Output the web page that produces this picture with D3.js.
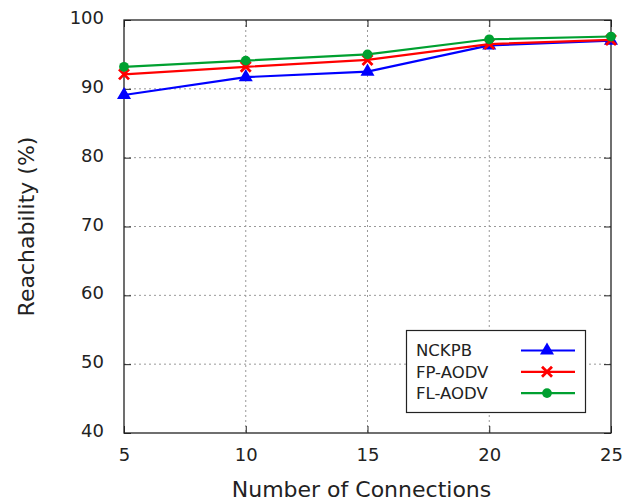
<!DOCTYPE html>
<html><head><meta charset="utf-8">
<script src="https://cdn.jsdelivr.net/npm/d3@7"></script>
<style>body{margin:0;background:#fff}svg{display:block}text{font-family:"DejaVu Sans",sans-serif;fill:#222}</style>
</head><body><svg id="c" width="623" height="501"></svg>
<script>
const connections = [5, 10, 15, 20, 25];
const nckpb = [89.1, 91.7, 92.5, 96.3, 97.0];
const fpAodv = [92.1, 93.2, 94.2, 96.5, 97.1];
const flAodv = [93.2, 94.1, 95.0, 97.2, 97.6];
const xTicks = [5, 10, 15, 20, 25];
const yTicks = [40, 50, 60, 70, 80, 90, 100];
const seriesNames = ["NCKPB", "FP-AODV", "FL-AODV"];
const seriesColors = ["#0000ff", "#ff0000", "#00a030"];
const seriesMarkers = ["triangle", "cross", "circle"];
const seriesValues = [nckpb, fpAodv, flAodv];

const svg = d3.select("#c");
const L = 124, R = 611, T = 20, B = 433;
const x = d3.scaleLinear().domain([5, 25]).range([L, R]);
const y = d3.scaleLinear().domain([40, 100]).range([B, T]);

// grid
const grid = svg.append("g");
xTicks.slice(1, -1).forEach(t => grid.append("line").attr("x1", x(t)).attr("x2", x(t)).attr("y1", T).attr("y2", B)
  .attr("stroke", "#999").attr("stroke-width", 1).attr("stroke-dasharray", "2,3"));
yTicks.slice(1, -1).forEach(t => grid.append("line").attr("x1", L).attr("x2", R).attr("y1", y(t)).attr("y2", y(t))
  .attr("stroke", "#999").attr("stroke-width", 1).attr("stroke-dasharray", "2,3"));

// axes with inward ticks
const ax = svg.append("g");
ax.append("g").attr("transform", `translate(0,${B})`).call(d3.axisBottom(x).tickValues(xTicks).tickSize(-7).tickPadding(15))
  .call(g => { g.select(".domain").remove(); g.selectAll("text").attr("font-size", 18).attr("font-family", "DejaVu Sans").attr("fill", "#222"); });
ax.append("g").attr("transform", `translate(${L},0)`).call(d3.axisLeft(y).tickValues(yTicks).tickSize(-7).tickPadding(20))
  .call(g => { g.select(".domain").remove(); g.selectAll("text").attr("font-size", 18).attr("font-family", "DejaVu Sans").attr("fill", "#222").attr("dy", "0.2em"); });
ax.append("g").attr("transform", `translate(0,${T})`).call(d3.axisTop(x).tickValues(xTicks).tickSize(-7).tickFormat(""))
  .call(g => g.select(".domain").remove());
ax.append("g").attr("transform", `translate(${R},0)`).call(d3.axisRight(y).tickValues(yTicks).tickSize(-7).tickFormat(""))
  .call(g => g.select(".domain").remove());
ax.selectAll(".tick line").attr("stroke", "#222");
svg.append("rect").attr("x", L).attr("y", T).attr("width", R - L).attr("height", B - T)
  .attr("fill", "none").attr("stroke", "#222").attr("stroke-width", 1.3);

function marker(g, type, cx, cy, color) {
  if (type === "triangle") {
    g.append("path").attr("d", d3.symbol(d3.symbolTriangle, 85)()).attr("transform", `translate(${cx},${cy})`).attr("fill", color);
  } else if (type === "cross") {
    g.append("path").attr("d", "M-5,-5L5,5M-5,5L5,-5").attr("transform", `translate(${cx},${cy})`)
      .attr("stroke", color).attr("stroke-width", 2.8).attr("fill", "none");
  } else {
    g.append("path").attr("d", d3.symbol(d3.symbolCircle, 75)()).attr("transform", `translate(${cx},${cy})`).attr("fill", color);
  }
}

const line = d3.line().x((d, i) => x(connections[i])).y(d => y(d));
const plot = svg.append("g");
seriesValues.forEach((vals, s) => {
  plot.append("path").datum(vals).attr("d", line).attr("fill", "none").attr("stroke", seriesColors[s]).attr("stroke-width", 2.2);
  vals.forEach((v, i) => marker(plot, seriesMarkers[s], x(connections[i]), y(v), seriesColors[s]));
});

// legend
const lg = svg.append("g");
lg.append("rect").attr("x", 406.5).attr("y", 330.5).attr("width", 179).attr("height", 82)
  .attr("fill", "#fff").attr("stroke", "#222").attr("stroke-width", 1.2);
seriesNames.forEach((n, s) => {
  const yy = 350.5 + s * 21.3;
  lg.append("text").attr("x", 416).attr("y", yy).attr("dy", "0.35em").attr("font-size", 16.5).text(n);
  lg.append("line").attr("x1", 521).attr("x2", 575).attr("y1", yy).attr("y2", yy).attr("stroke", seriesColors[s]).attr("stroke-width", 2.2);
  marker(lg, seriesMarkers[s], 547, yy, seriesColors[s]);
});

// titles
svg.append("text").attr("x", (L + R) / 2 - 6).attr("y", 497).attr("text-anchor", "middle").attr("font-size", 22).text("Number of Connections");
svg.append("text").attr("transform", `translate(34,${(T + B) / 2}) rotate(-90)`).attr("text-anchor", "middle").attr("font-size", 22).text("Reachability (%)");
</script></body></html>
